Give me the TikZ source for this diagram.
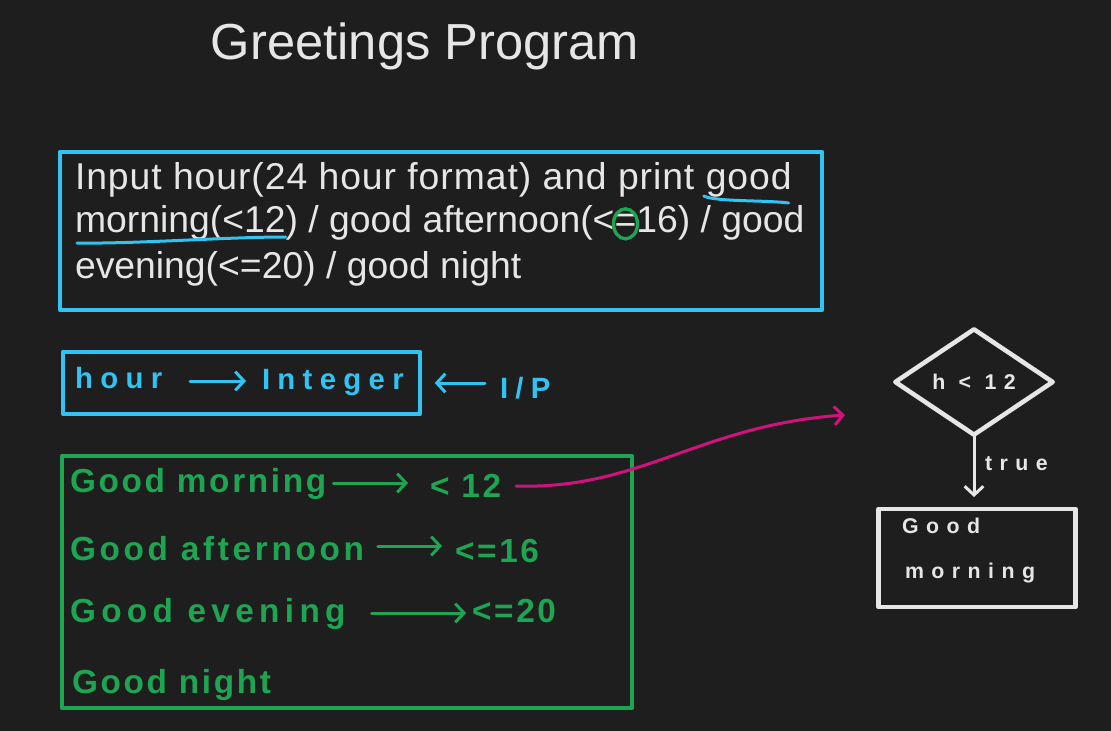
\documentclass[tikz,border=0pt]{standalone}
\usepackage{fontspec}
\setmainfont{Liberation Sans}
\newfontfamily\handA{Liberation Sans}[LetterSpace=25]
\newfontfamily\handC{Liberation Sans}[LetterSpace=35]
\newfontfamily\handB{Liberation Sans}[LetterSpace=8]
\newfontfamily\wideL{Liberation Sans}[LetterSpace=2.5]
\usetikzlibrary{arrows.meta,shapes.geometric}
\definecolor{bgc}{HTML}{1E1E1E}
\definecolor{chalk}{HTML}{E6E6E6}
\definecolor{cyanc}{HTML}{2FC4F3}
\definecolor{greenc}{HTML}{1DA552}
\definecolor{magc}{HTML}{D0127C}
\begin{document}
\begin{tikzpicture}[x=0.75pt,y=-0.75pt,
  every node/.style={inner sep=0pt, outer sep=0pt},
  ttl/.style={anchor=base, text=chalk, font=\fontsize{38}{46}\selectfont},
  txt/.style={anchor=base west, text=chalk, font=\fontsize{28}{34}\selectfont},
  widetxt/.style={anchor=base west, text=chalk, font=\wideL\fontsize{28}{34}\selectfont},
  cyantxt/.style={anchor=base west, text=cyanc, font=\handA\bfseries\fontsize{22}{26}\selectfont},
  greentxt/.style={anchor=base west, text=greenc, font=\handB\bfseries\fontsize{25}{30}\selectfont},
  chalktxt/.style={anchor=base west, text=chalk, font=\handC\bfseries\fontsize{16}{20}\selectfont},
  frame/.style={draw=#1, line width=3.4pt, line join=round, line cap=round},
  barb/.style={line width=2.25pt, line cap=round, -{Straight Barb[length=6.5pt,width=14pt,line width=2.25pt]}},
  uline/.style={draw=#1, line width=2.25pt, line cap=round},
]
\fill[bgc] (0,0) rectangle (1111,731);
\useasboundingbox (0,0) rectangle (1111,731);

% title
\node[ttl] (title) at (425,60) {Greetings Program};

% task box
\node[frame=cyanc, minimum width=571.5pt, minimum height=118.5pt] (taskbox) at (441,231) {};
\node[widetxt] (l1a) at (75,190) {Input hour(24 hour format) and print};
\node[widetxt] (gd) at ([xshift=8.5pt]l1a.base east) {good};
\node[txt] (mo) at (75,233) {morning(<12};
\node[txt] (l2b) at (mo.base east) {) / good afternoon(<};
\node[txt] (eq) at (l2b.base east) {=};
\node[txt] (l2c) at (eq.base east) {16) / good};
\node[txt] (l3) at (75,278) {evening(<=20) / good night};
\draw[uline=cyanc] ([shift={(-2,6)}]gd.base west) .. controls ([shift={(10,12)}]gd.base west) and ([shift={(-25,10)}]gd.base east) .. ([shift={(-3,13)}]gd.base east);
\draw[uline=cyanc] ([shift={(2,10)}]mo.base west) .. controls ([shift={(60,11)}]mo.base west) and ([shift={(-60,4)}]mo.base east) .. ([shift={(0,4)}]mo.base east);
\draw[greenc, line width=2.5pt] (eq.center) ellipse [x radius=12, y radius=15];

% hour box
\node[frame=cyanc, minimum width=267.75pt, minimum height=46.5pt] (hourbox) at (241.5,383) {};
\node[cyantxt] (hr) at (75,388) {hour};
\node[cyantxt] (intg) at (262,389) {Integer};
\draw[barb, cyanc] ([shift={(28,-7)}]hr.base east) -- ([shift={(-16,-8)}]intg.base west);
\node[cyantxt] (ip) at (500,398) {I/P};
\draw[barb, cyanc] ([shift={(-15,-15)}]ip.base west) -- ([xshift=11pt]hourbox.east);

% green box
\node[frame=greenc, minimum width=427.5pt, minimum height=189pt] (gbox) at (347,582) {};
\node[greentxt] (gm) at (70,492) {Good morning};
\node[greentxt] (c1) at (430,497) {< 12};
\draw[barb, greenc] ([shift={(7,-9)}]gm.base east) -- ([shift={(-22,-14)}]c1.base west);
\node[greentxt, font=\handB\bfseries\fontsize{25}{30}\selectfont\addfontfeature{LetterSpace=11}] (ga) at (70,560) {Good afternoon};
\node[greentxt] (c2) at (455,562) {<=16};
\draw[barb, greenc] ([shift={(14,-14)}]ga.base east) -- ([shift={(-13,-16)}]c2.base west);
\node[greentxt, font=\handB\bfseries\fontsize{25}{30}\selectfont\addfontfeature{LetterSpace=16}] (ge) at (70,622) {Good evening};
\node[greentxt] (c3) at (472,622) {<=20};
\draw[barb, greenc] ([shift={(26,-9)}]ge.base east) -- ([shift={(-6,-9)}]c3.base west);
\node[greentxt] (gn) at (72,693) {Good night};

% flowchart
\node[draw=chalk, line width=3.4pt, line join=round, diamond, aspect=1.5,
      minimum width=118pt, minimum height=79pt,
      text=chalk, font=\handC\bfseries\fontsize{16}{20}\selectfont] (dec) at (974,382) {h < 12};
\node[frame=chalk, minimum width=147.75pt, minimum height=73.5pt] (gmbox) at (977,558) {};
\draw[barb, chalk, shorten >=9pt] (dec.south) -- (dec.south |- gmbox.north);
\node[chalktxt] (tr) at (985,470) {true};
\node[chalktxt] (gb1) at (902,533) {Good};
\node[chalktxt] (gb2) at (905,578) {morning};

% magenta link
\coordinate (magtip) at (845,415);
\draw[barb, magc] ([shift={(15,-11)}]c1.base east) .. controls (640,490) and (700,425) .. (magtip);
\end{tikzpicture}
\end{document}
